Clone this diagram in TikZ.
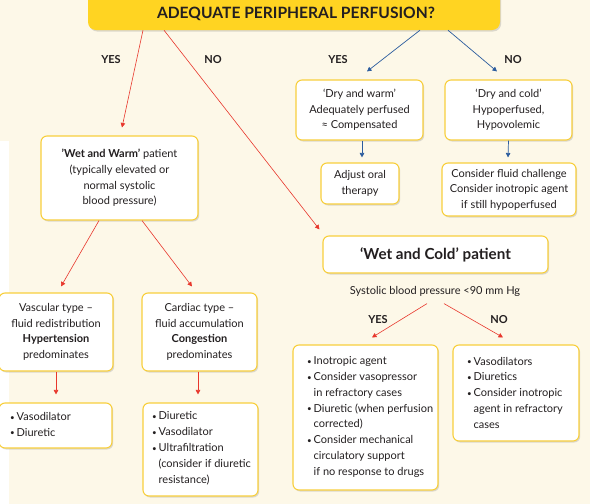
\documentclass[tikz,border=0pt]{standalone}
\usepackage{fontspec}
\setmainfont{Lato}
\usetikzlibrary{shadows,arrows.meta}
\definecolor{cream}{HTML}{FDF8E8}
\definecolor{titlefill}{HTML}{FFD422}
\definecolor{boxline}{HTML}{F8CF3C}
\definecolor{ink}{HTML}{231F20}
\definecolor{redarrow}{HTML}{E8372C}
\definecolor{bluearrow}{HTML}{2B5C9E}
\newcommand\bul{\makebox[6.5pt][l]{\raisebox{0.5pt}{\fontsize{8}{8}\selectfont\textbullet}}}
\newcommand\ind{\hspace*{6.5pt}}
\begin{document}
\begin{tikzpicture}[x=1pt,y=-1pt,
  every node/.style={text=ink},
  softshadow/.style={drop shadow={shadow xshift=1.2pt,shadow yshift=-1.5pt,opacity=0.22,fill=black!60}},
  box/.style={draw=boxline,line width=1.1pt,fill=white,rounded corners=6pt,softshadow,
    align=center,inner sep=0pt,font=\fontsize{11}{15.6}\selectfont},
  listtext/.style={anchor=west,align=left,inner sep=0pt,font=\fontsize{11}{15.8}\selectfont},
  titlebox/.style={fill=titlefill,rounded corners=8pt,softshadow,inner sep=0pt},
  answer/.style={font=\fontsize{11}{13}\selectfont\bfseries},
  redline/.style={draw=redarrow,line width=0.6pt,-{Triangle[length=4.5pt,width=4.5pt]}},
  blueline/.style={draw=bluearrow,line width=0.7pt,-{Triangle[length=4.5pt,width=4.5pt]}}]
\useasboundingbox (0,0) rectangle (590,504);
\clip (0,0) rectangle (590,504);
\fill[cream] (0,0) rectangle (590,504);
\fill[white] (0,141) rectangle (9,504);

% question at the top
\node[titlebox,minimum width=412pt,minimum height=42pt] (top) at (294,9) {};
\node[font=\fontsize{15.6}{17}\selectfont\bfseries] (toptext) at (296,14) {ADEQUATE PERIPHERAL PERFUSION?};

% dry branch
\node[box,minimum width=127pt,minimum height=60pt] (dw) at (359.5,110)
  {‘Dry and warm’\\Adequately perfused\\≈ Compensated};
\node[box,minimum width=127pt,minimum height=60pt] (dc) at (508.5,110)
  {‘Dry and cold’\\Hypoperfused,\\Hypovolemic};
\node[box,minimum width=78pt,minimum height=41pt] (adj) at (360,183.5)
  {Adjust oral\\therapy};
\node[box,minimum width=134pt,minimum height=53pt] (fluid) at (509,189.5)
  {Consider fluid challenge\\Consider inotropic agent\\if still hypoperfused};

% wet and warm branch
\node[box,minimum width=157pt,minimum height=84pt] (ww) at (119.5,178)
  {\textbf{'Wet and Warm'} patient\\(typically elevated or\\normal systolic\\blood pressure)};
\node[box,minimum width=114pt,minimum height=78pt] (vasc) at (56,332)
  {Vascular type –\\fluid redistribution\\\textbf{Hypertension}\\predominates};
\node[box,minimum width=115pt,minimum height=78pt] (card) at (199.5,332)
  {Cardiac type –\\fluid accumulation\\\textbf{Congestion}\\predominates};
\node[box,minimum width=113pt,minimum height=45pt] (vtreat) at (55.5,425.5) {};
\node[listtext] (vtreatlist) at (10,424.5)
  {\bul Vasodilator\\\bul Diuretic};
\node[box,minimum width=115pt,minimum height=93pt] (ctreat) at (200.5,449.5) {};
\node[listtext] (ctreatlist) at (152,448.3)
  {\bul Diuretic\\\bul Vasodilator\\\bul Ultrafiltration\\\ind(consider if diuretic\\\ind resistance)};

% wet and cold branch
\node[box,minimum width=225pt,minimum height=37pt,font=\fontsize{15.2}{17}\selectfont\bfseries] (wc) at (435.5,254.5)
  {‘Wet and Cold’ patient};
\node[font=\fontsize{11}{13}\selectfont] (sys) at (435,291) {Systolic blood pressure <90 mm Hg};
\node[box,minimum width=145pt,minimum height=145pt] (yesbox) at (365.5,417.5) {};
\node[listtext] (yeslist) at (307,417)
  {\bul Inotropic agent\\\bul Consider vasopressor\\\ind in refractory cases\\\bul Diuretic (when perfusion\\\ind corrected)\\\bul Consider mechanical\\\ind circulatory support\\\ind if no response to drugs};
\node[box,minimum width=126pt,minimum height=96pt] (nobox) at (516,393) {};
\node[listtext] (nolist) at (467,392.7)
  {\bul Vasodilators\\\bul Diuretics\\\bul Consider inotropic\\\ind agent in refractory\\\ind cases};

% answers
\node[answer] (yesA) at (111,60) {YES};
\node[answer] (noA) at (213,60) {NO};
\node[answer] (yesB) at (338,60) {YES};
\node[answer] (noB) at (513,60) {NO};
\node[answer] (yesC) at (378,320) {YES};
\node[answer] (noC) at (499,320) {NO};

% connectors
\draw[redline] ([xshift=-151pt]top.south) -- ([xshift=2.5pt,yshift=8pt]ww.north);
\draw[redline] ([xshift=-130pt]top.south) -- ([xshift=-3pt,yshift=6pt]wc.north west);
\draw[blueline] ([xshift=126pt]top.south) -- ([xshift=7.5pt,yshift=8pt]dw.north);
\draw[blueline] ([xshift=154pt]top.south) -- ([xshift=-11.5pt,yshift=8pt]dc.north);
\draw[blueline] ([xshift=2.5pt]dw.south) -- ([xshift=2pt,yshift=5pt]adj.north);
\draw[blueline] (dc.south) -- ([xshift=-1pt,yshift=5pt]fluid.north);
\draw[redline] ([xshift=-20.5pt]ww.south) -- ([xshift=5pt,yshift=6pt]vasc.north);
\draw[redline] ([xshift=22.5pt]ww.south) -- ([xshift=-7.5pt,yshift=6pt]card.north);
\draw[redline] (vasc.south) -- ([xshift=0.5pt,yshift=8pt]vtreat.north);
\draw[redline] ([xshift=-1.5pt]card.south) -- ([xshift=-2.5pt,yshift=8pt]ctreat.north);
\draw[redline] ([xshift=-8pt,yshift=-4pt]sys.south) -- ([xshift=6.5pt,yshift=7pt]yesbox.north);
\draw[redline] ([xshift=9pt,yshift=-4pt]sys.south) -- ([xshift=-13pt,yshift=7pt]nobox.north);
\end{tikzpicture}
\end{document}
